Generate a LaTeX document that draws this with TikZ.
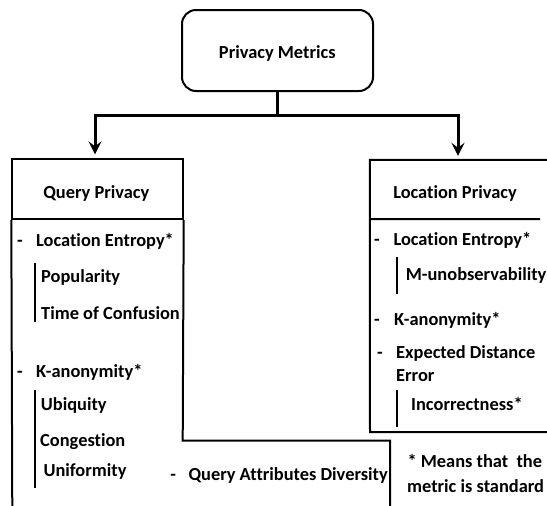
\documentclass[tikz,border=0pt]{standalone}
\usepackage{fontspec}
\setmainfont[Ligatures=NoCommon]{Carlito}
\usetikzlibrary{arrows.meta}
\begin{document}
\begin{tikzpicture}[x=1pt,y=-1pt,
  font=\fontsize{18.4}{22}\selectfont\bfseries,
  txt/.style={anchor=base west, inner sep=0pt},
  ctxt/.style={anchor=base, inner sep=0pt},
  frame/.style={draw, line width=2pt, inner sep=0pt},
  outline/.style={line width=2pt},
  bar/.style={line width=2pt},
  link/.style={line width=3pt, -{Stealth[length=13pt,width=13pt,inset=5pt]}}]
\useasboundingbox (0,0) rectangle (547,506);

% root box
\node[frame, rounded corners=14pt, minimum width=191pt, minimum height=81pt] (top) at (277.5,50.5) {};
\node[ctxt] (toplabel) at (277.3,58.3) {Privacy Metrics};

% column headers
\node[frame, minimum width=170.4pt, minimum height=59.7pt] (qhead) at (97.5,189.2) {};
\node[ctxt] (qlabel) at (96.3,198.3) {Query Privacy};
\node[inner sep=0pt, minimum width=177pt, minimum height=59pt] (lhead) at (458.5,189.5) {};
\node[ctxt] (llabel) at (455,198.3) {Location Privacy};

% connectors
\draw[link] (top.south) -- ++(0,23.3) -| ([xshift=-2.5pt,yshift=4pt]qhead.north);
\draw[link] (top.south) -- ++(0,23.3) -| ([xshift=-0.5pt,yshift=4pt]lhead.north);

% query privacy outline
\draw[outline] (qhead.south west) -- (12.3,512);
\draw[outline] (qhead.south east) -- (182.7,440.7) -- (390,440.7) -- (390,512);

% location privacy outline
\draw[outline] ([xshift=6pt]lhead.north east) -- (lhead.north west) -- (370,432) -- (553,432);
\draw[outline] (lhead.south west) -- (540,219);

% query privacy items
\node[ctxt] (qd1) at (20,246) {-};
\node[txt] (q1) at (36,246) {Location Entropy*};
\draw[bar] (34.7,263) -- (34.7,322);
\node[txt] (q1a) at (41,282.3) {Popularity};
\node[txt] (q1b) at (41,319.3) {Time of Confusion};
\node[ctxt] (qd2) at (20,377.3) {-};
\node[txt] (q2) at (36,377.3) {K-anonymity*};
\draw[bar] (34.7,390) -- (34.7,487.7);
\node[txt] (q2a) at (40.7,410) {Ubiquity};
\node[txt] (q2b) at (40,446) {Congestion};
\node[txt] (q2c) at (43.3,476) {Uniformity};
\node[ctxt] (qd3) at (173.3,480.7) {-};
\node[txt] (q3) at (188.3,480.7) {Query Attributes Diversity};

% location privacy items
\node[ctxt] (ld1) at (377,245) {-};
\node[txt] (l1) at (393.3,245) {Location Entropy*};
\draw[bar] (397.3,257.3) -- (397.3,294);
\node[txt] (l1a) at (405.7,280.7) {M-unobservability};
\node[ctxt] (ld2) at (377,325) {-};
\node[txt] (l2) at (394,325) {K-anonymity*};
\node[ctxt] (ld3) at (380,358.3) {-};
\node[txt] (l3) at (396,358.3) {Expected Distance};
\node[txt] (l3b) at (396,381.7) {Error};
\draw[bar] (397.3,390) -- (397.3,426.7);
\node[txt] (l3a) at (411,410.7) {Incorrectness*};

% footnote
\node[txt] (note1) at (407.3,467.7) {* Means that\ \ the};
\node[txt] (note2) at (407,492.7) {metric is standard};
\end{tikzpicture}
\end{document}
